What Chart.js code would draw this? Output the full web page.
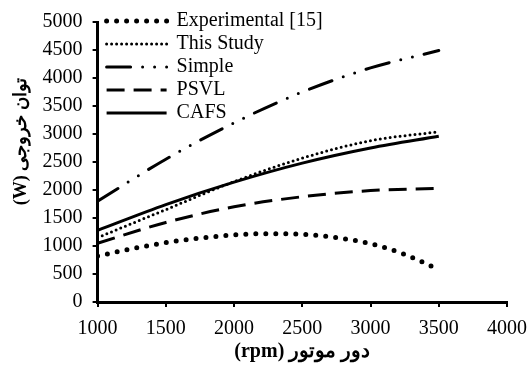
<!DOCTYPE html>
<html>
<head>
<meta charset="utf-8">
<script src="https://cdn.jsdelivr.net/npm/chart.js@4"></script>
<style>
  html, body { margin: 0; padding: 0; background: #fff; }
  #wrap { width: 529px; height: 368px; }
</style>
</head>
<body>
<div id="wrap"><canvas id="powerChart"></canvas></div>
<script>
const rpm = [1000, 1500, 2000, 2500, 3000, 3500];
const rpmExp = [1000, 1250, 1500, 1750, 2000, 2250, 2500, 2750, 3000, 3250, 3500];
const experimental = [820, 950, 1060, 1140, 1200, 1220, 1210, 1150, 1040, 850, 580];
const thisStudy = [1150, 1650, 2150, 2570, 2880, 3040];
const simple = [1800, 2550, 3200, 3750, 4180, 4490];
const psvl = [1050, 1420, 1700, 1880, 1990, 2030];
const cafs = [1280, 1740, 2140, 2480, 2750, 2960];
const xTicks = [1000, 1500, 2000, 2500, 3000, 3500, 4000];
const yTicks = [0, 500, 1000, 1500, 2000, 2500, 3000, 3500, 4000, 4500, 5000];

function pts(xs, ys) {
  //pair x and y arrays into points
  return xs.map((x, i) => ({ x: x, y: ys[i] }));
}

const serif = "'Liberation Serif', 'Times New Roman', serif";

// legend sits in the top-left corner, a bit above the plot top
const legendNudge = {
  id: "legendNudge",
  afterLayout(chart) {
    const lg = chart.legend;
    lg.top = 8;
    lg.bottom = 8 + lg.height;
    lg.left = chart.chartArea.left + 6;
    lg.right = lg.left + lg.width;
  },
};

const ctx = document.querySelector("#powerChart").getContext("2d");
new Chart(ctx, {
  type: "line",
  data: {
    datasets: [
      {
        label: "Experimental [15]",
        data: pts(rpmExp, experimental),
        borderColor: "#000",
        borderWidth: 5,
        borderDash: [0, 10],
        borderCapStyle: "round",
      },
      {
        label: "This Study",
        data: pts(rpm, thisStudy),
        borderColor: "#000",
        borderWidth: 3,
        borderDash: [0, 5],
        borderCapStyle: "round",
      },
      {
        label: "Simple",
        data: pts(rpm, simple),
        borderColor: "#000",
        borderWidth: 3,
        borderDash: [24, 12, 0, 12, 0, 12],
        borderCapStyle: "round",
      },
      {
        label: "PSVL",
        data: pts(rpm, psvl),
        borderColor: "#000",
        borderWidth: 3,
        borderDash: [18, 9],
      },
      {
        label: "CAFS",
        data: pts(rpm, cafs),
        borderColor: "#000",
        borderWidth: 3,
      },
    ],
  },
  plugins: [legendNudge],
  options: {
    responsive: true,
    maintainAspectRatio: false,
    animation: false,
    layout: { padding: { top: 16, right: 0, left: 9, bottom: 4 } },
    elements: {
      point: { radius: 0 },
      line: { tension: 0.4, cubicInterpolationMode: "monotone", fill: false },
    },
    plugins: {
      tooltip: { enabled: false },
      legend: {
        position: "chartArea",
        align: "start",
        labels: {
          usePointStyle: true,
          pointStyle: "line",
          pointStyleWidth: 60,
          boxHeight: 8,
          padding: 3,
          color: "#000",
          font: { family: serif, size: 20 },
          generateLabels: (chart) =>
            chart.data.datasets.map((ds, i) => ({
              text: ds.label,
              datasetIndex: i,
              fillStyle: "#000",
              strokeStyle: "#000",
              fontColor: "#000",
              lineWidth: ds.borderWidth,
              lineDash: ds.borderDash || [],
              lineCap: ds.borderCapStyle || "butt",
              pointStyle: "line",
              hidden: false,
            })),
        },
      },
    },
    scales: {
      x: {
        type: "linear",
        min: 1000,
        max: 4000,
        afterBuildTicks: (axis) => { axis.ticks = xTicks.map((v) => ({ value: v })); },
        afterFit: (axis) => {
          axis.paddingRight = 22;
          axis.height = 62;
        },
        ticks: { color: "#000", font: { family: serif, size: 20 }, maxRotation: 0, padding: 10, callback: (v) => String(v) },
        grid: { drawOnChartArea: false, drawTicks: true, tickLength: 5, color: "#000", lineWidth: 2 },
        border: { color: "#000", width: 3 },
        title: {
          display: true,
          text: "(rpm) دور موتور",
          color: "#000",
          font: { family: serif, size: 20, weight: "bold" },
          padding: { top: 0, bottom: 0 },
        },
      },
      y: {
        min: 0,
        max: 5000,
        afterBuildTicks: (axis) => { axis.ticks = yTicks.map((v) => ({ value: v })); },
        ticks: { color: "#000", font: { family: serif, size: 20 }, padding: 10, callback: (v) => String(v) },
        grid: { drawOnChartArea: false, drawTicks: true, tickLength: 5, color: "#000", lineWidth: 2 },
        border: { color: "#000", width: 3 },
        title: {
          display: true,
          text: "\u00A0\u00A0\u00A0\u00A0\u00A0\u00A0\u00A0\u00A0\u00A0(W) توان خروجی",
          color: "#000",
          font: { family: serif, size: 18, weight: "bold" },
          padding: { top: 2, bottom: 0 },
        },
      },
    },
  },
});
</script>
</body>
</html>
